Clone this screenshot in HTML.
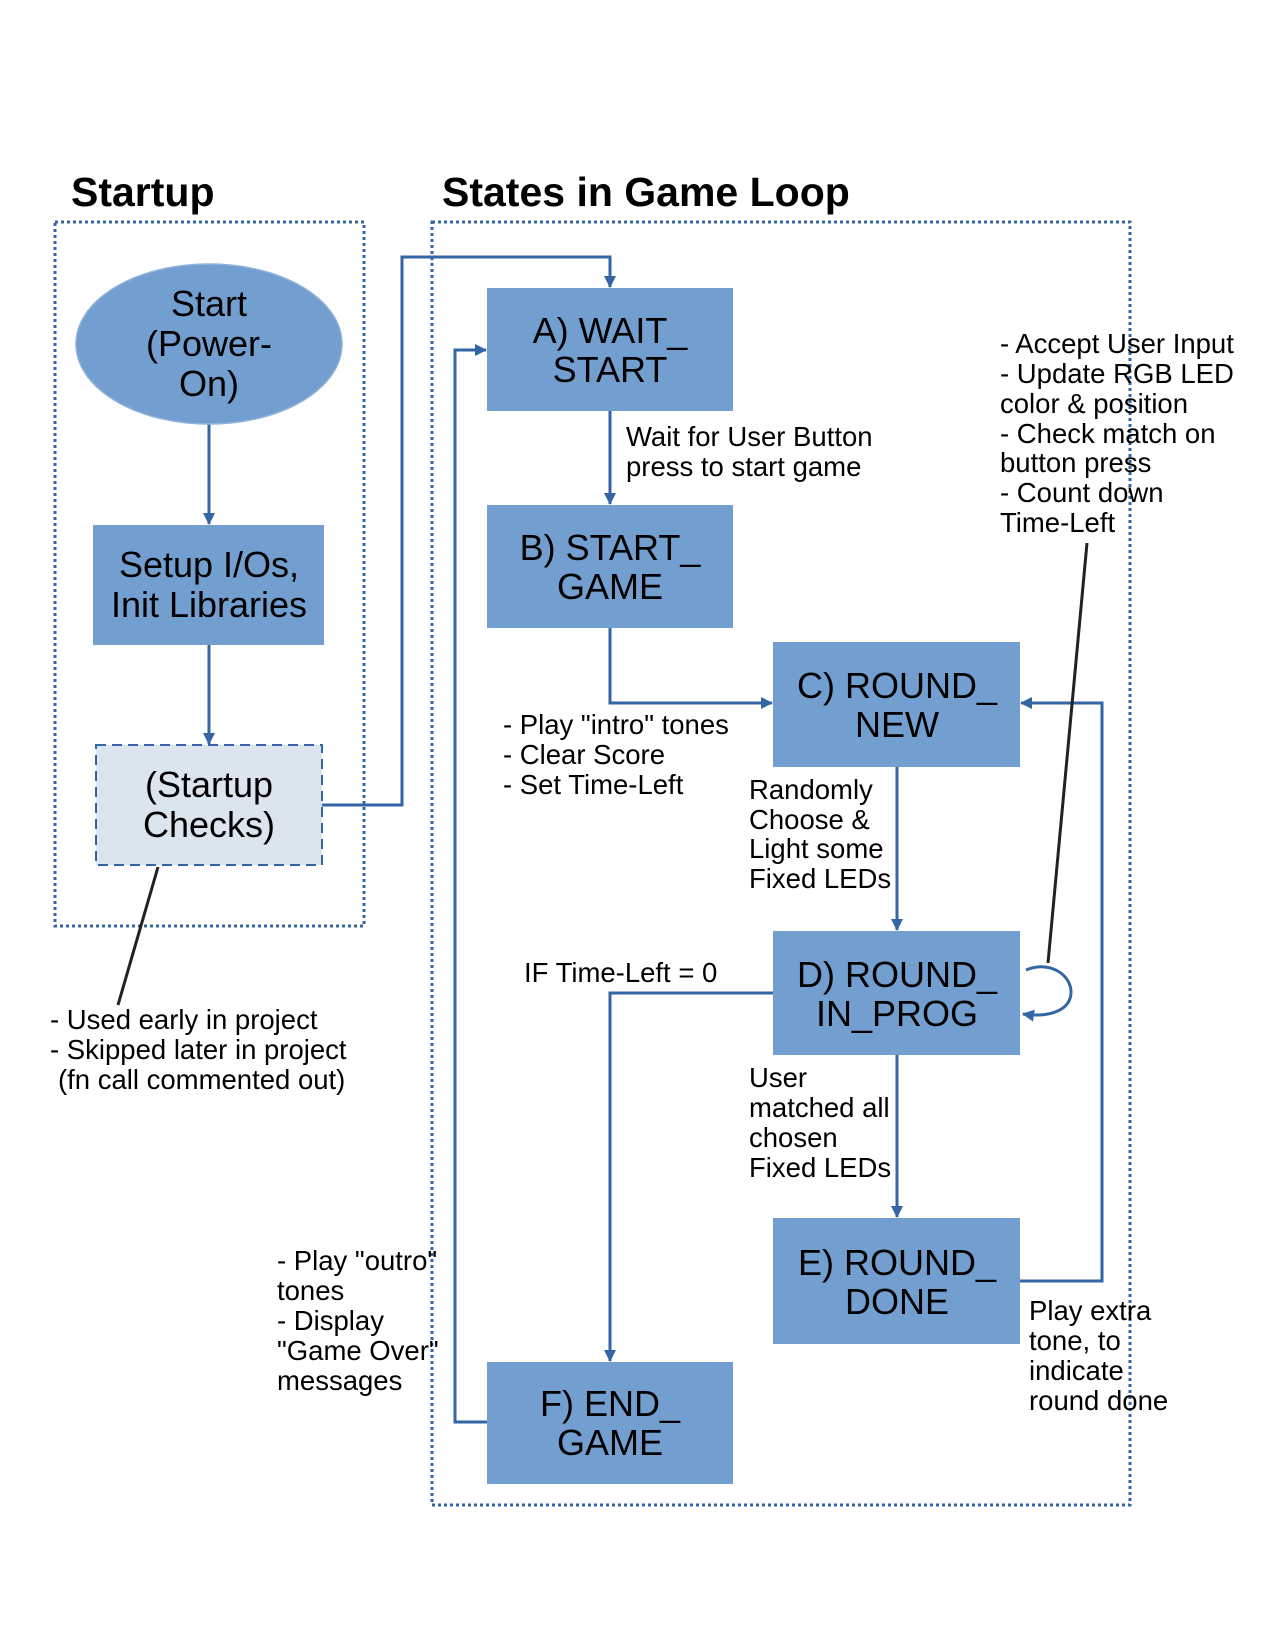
<!DOCTYPE html>
<html><head><meta charset="utf-8"><style>
html,body{margin:0;padding:0;background:#fff}
svg{display:block}
text{font-family:"Liberation Sans",sans-serif;fill:#000}
.bt{font-size:36px;text-anchor:middle}
.sm{font-size:27.5px}
.h{font-size:41px;font-weight:bold}
</style></head><body>
<svg width="1266" height="1639" viewBox="0 0 1266 1639" xmlns="http://www.w3.org/2000/svg">
<defs>
<marker id="ar" markerWidth="12" markerHeight="12" refX="11" refY="6" orient="auto" markerUnits="userSpaceOnUse">
<path d="M0,0 L12,6 L0,12 z" fill="#3465a4"/></marker>
</defs>
<text class="h" x="71" y="206">Startup</text>
<text class="h" x="442" y="206">States in Game Loop</text>
<rect x="55" y="222" width="309" height="704" fill="none" stroke="#3465a4" stroke-width="3" stroke-dasharray="3,3"/>
<rect x="432" y="222" width="698" height="1283" fill="none" stroke="#3465a4" stroke-width="3" stroke-dasharray="3,3"/>

<g stroke="#3465a4" stroke-width="3" fill="none" marker-end="url(#ar)">
<path d="M209,424 V524"/>
<path d="M209,645 V744"/>
<path d="M322,805 H402 V257 H610 V287"/>
<path d="M610,411 V504"/>
<path d="M610,628 V703 H772"/>
<path d="M897,767 V930"/>
<path d="M897,1055 V1217"/>
<path d="M773,993 H610 V1361"/>
<path d="M1020,1281 H1102 V703 H1021"/>
<path d="M487,1422 H455 V350 H486"/>
<path d="M1026,970 C1050,960 1071,975 1071,992 C1071,1010 1050,1018 1023,1014"/>
</g>
<line x1="1087" y1="543" x2="1048" y2="963" stroke="#222" stroke-width="3"/>
<line x1="158" y1="867" x2="118" y2="1005" stroke="#222" stroke-width="3"/>

<ellipse cx="209" cy="344" rx="133" ry="80" fill="#729fcf" stroke="#8fb0d8" stroke-width="1.5"/>
<text class="bt" x="209" y="316">Start</text>
<text class="bt" x="209" y="356">(Power-</text>
<text class="bt" x="209" y="396">On)</text>

<rect x="93" y="525" width="231" height="120" fill="#729fcf"/>
<text class="bt" x="209" y="577">Setup I/Os,</text>
<text class="bt" x="209" y="617">Init Libraries</text>

<rect x="96" y="745" width="226" height="120" fill="#dce4ee" stroke="#3465a4" stroke-width="2" stroke-dasharray="10,6"/>
<text class="bt" x="209" y="797">(Startup</text>
<text class="bt" x="209" y="837">Checks)</text>

<g fill="#729fcf">
<rect x="487" y="288" width="246" height="123"/>
<rect x="487" y="505" width="246" height="123"/>
<rect x="773" y="642" width="247" height="125"/>
<rect x="773" y="931" width="247" height="124"/>
<rect x="773" y="1218" width="247" height="126"/>
<rect x="487" y="1362" width="246" height="122"/>
</g>
<text class="bt" x="610" y="343">A) WAIT_</text>
<text class="bt" x="610" y="382">START</text>
<text class="bt" x="610" y="560">B) START_</text>
<text class="bt" x="610" y="599">GAME</text>
<text class="bt" x="897" y="698">C) ROUND_</text>
<text class="bt" x="897" y="737">NEW</text>
<text class="bt" x="897" y="987">D) ROUND_</text>
<text class="bt" x="897" y="1026">IN_PROG</text>
<text class="bt" x="897" y="1275">E) ROUND_</text>
<text class="bt" x="897" y="1314">DONE</text>
<text class="bt" x="610" y="1416">F) END_</text>
<text class="bt" x="610" y="1455">GAME</text>

<g>
<text class="sm" x="626" y="446">Wait for User Button</text>
<text class="sm" x="626" y="476">press to start game</text>

<text class="sm" x="1000" y="353">- Accept User Input</text>
<text class="sm" x="1000" y="383">- Update RGB LED</text>
<text class="sm" x="1000" y="413">color &amp; position</text>
<text class="sm" x="1000" y="443">- Check match on</text>
<text class="sm" x="1000" y="472">button press</text>
<text class="sm" x="1000" y="502">- Count down</text>
<text class="sm" x="1000" y="532">Time-Left</text>

<text class="sm" x="503" y="734">- Play "intro" tones</text>
<text class="sm" x="503" y="764">- Clear Score</text>
<text class="sm" x="503" y="794">- Set Time-Left</text>

<text class="sm" x="749" y="799">Randomly</text>
<text class="sm" x="749" y="829">Choose &amp;</text>
<text class="sm" x="749" y="858">Light some</text>
<text class="sm" x="749" y="888">Fixed LEDs</text>

<text class="sm" x="524" y="982">IF Time-Left = 0</text>

<text class="sm" x="749" y="1087">User</text>
<text class="sm" x="749" y="1117">matched all</text>
<text class="sm" x="749" y="1147">chosen</text>
<text class="sm" x="749" y="1177">Fixed LEDs</text>

<text class="sm" x="277" y="1270">- Play "outro"</text>
<text class="sm" x="277" y="1300">tones</text>
<text class="sm" x="277" y="1330">- Display</text>
<text class="sm" x="277" y="1360">"Game Over"</text>
<text class="sm" x="277" y="1390">messages</text>

<text class="sm" x="1029" y="1320">Play extra</text>
<text class="sm" x="1029" y="1350">tone, to</text>
<text class="sm" x="1029" y="1380">indicate</text>
<text class="sm" x="1029" y="1410">round done</text>

<text class="sm" x="50" y="1029">- Used early in project</text>
<text class="sm" x="50" y="1059">- Skipped later in project</text>
<text class="sm" x="58" y="1089">(fn call commented out)</text>
</g>
</svg>
</body></html>
